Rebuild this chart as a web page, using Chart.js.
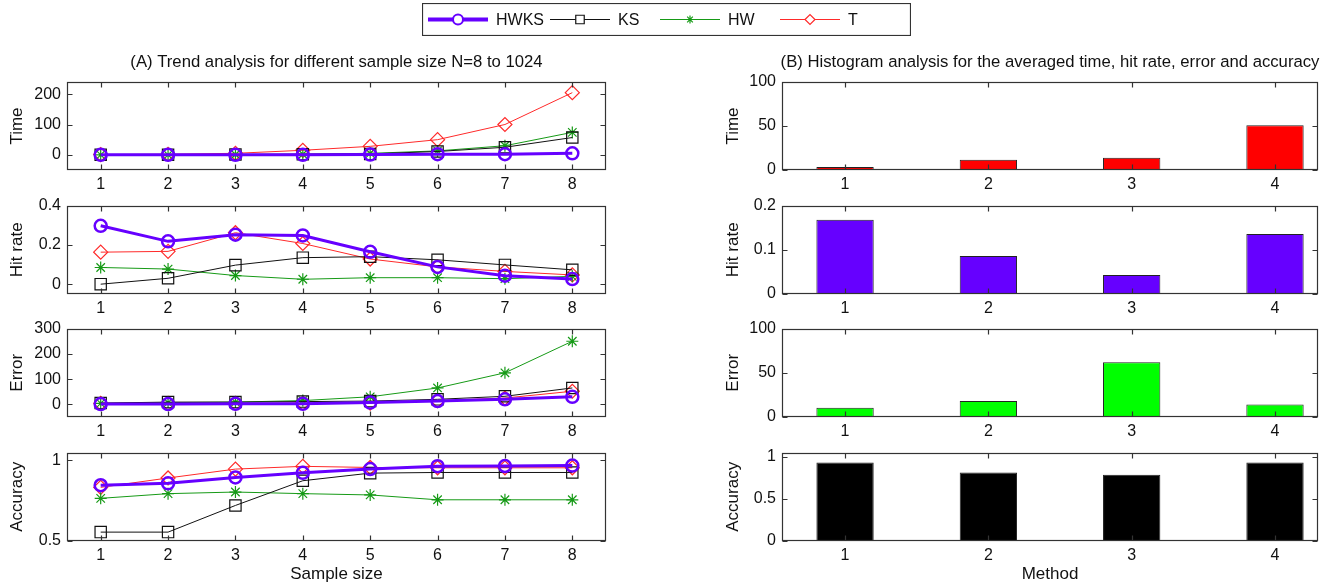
<!DOCTYPE html>
<html>
<head>
<meta charset="utf-8">
<script src="https://cdn.jsdelivr.net/npm/chart.js@4.4.0/dist/chart.umd.min.js"></script>
<style>
  html, body { margin: 0; padding: 0; background: #fff; overflow: hidden; }
  body { width: 1330px; height: 588px; position: relative; }
  .panel { position: absolute; }
  .panel canvas { display: block; }
</style>
</head>
<body>
<div class="panel" id="legendBox"><canvas id="legend"></canvas></div>
<script>
// ---- data ----
const sampleSizes = [1, 2, 3, 4, 5, 6, 7, 8];
const methodIds = [1, 2, 3, 4];
const seriesNames = ['HWKS', 'KS', 'HW', 'T'];

// (A) trend per sample size
const timeHWKS = [0, 0, 0, 0, 1, 2, 2, 5];
const timeKS   = [0, 0, 1, 2, 3, 11, 25, 57];
const timeHW   = [0, 0, 1, 2, 5, 13, 30, 74];
const timeT    = [1, 2, 5, 15, 28, 50, 100, 205];

const hitHWKS = [0.297, 0.218, 0.252, 0.248, 0.165, 0.088, 0.043, 0.026];
const hitKS   = [0.0, 0.030, 0.097, 0.135, 0.140, 0.124, 0.098, 0.073];
const hitHW   = [0.085, 0.077, 0.044, 0.025, 0.033, 0.033, 0.028, 0.040];
const hitT    = [0.163, 0.167, 0.262, 0.207, 0.128, 0.088, 0.065, 0.047];

const errHWKS = [1, 1, 2, 2, 7, 13, 20, 30];
const errKS   = [5, 9, 9, 11, 13, 20, 32, 65];
const errHW   = [4, 7, 9, 15, 30, 65, 125, 250];
const errT    = [4, 4, 4, 5, 5, 15, 25, 52];

const accHWKS = [0.845, 0.857, 0.893, 0.922, 0.945, 0.963, 0.964, 0.967];
const accKS   = [0.555, 0.555, 0.72, 0.873, 0.92, 0.924, 0.924, 0.924];
const accHW   = [0.764, 0.793, 0.803, 0.793, 0.785, 0.755, 0.755, 0.755];
const accT    = [0.832, 0.89, 0.945, 0.962, 0.955, 0.953, 0.953, 0.953];

// (B) averaged per method
const avgTime = [1.5, 11.7, 14, 51];
const avgHit  = [0.168, 0.086, 0.043, 0.136];
const avgErr  = [10.5, 18, 62, 14];
const avgAcc  = [0.93, 0.81, 0.785, 0.93];

// tick labels
const timeTicks = [0, 100, 200];
const hitTicks  = [0, 0.2, 0.4];
const errTicks  = [0, 100, 200, 300];
const accTicks  = [0.5, 1];
const avgTimeTicks = [0, 50, 100];
const avgHitTicks  = [0, 0.1, 0.2];
const avgErrTicks  = [0, 50, 100];
const avgAccTicks  = [0, 0.5, 1];

// ---- styles ----
const FONT = '"Liberation Sans", Arial, Helvetica, sans-serif';
const seriesStyle = {
  HWKS: { color: '#6600ff', width: 3, point: 'circle', radius: 6, pw: 2.5 },
  KS:   { color: '#111111', width: 1, point: 'rect', radius: 8, pw: 1.2 },
  HW:   { color: '#169a16', width: 1, point: 'star', radius: 6, pw: 1.2 },
  T:    { color: '#ff2a2a', width: 1, point: 'rectRot', radius: 7, pw: 1.2 }
};

const boxAxes = {
  id: 'boxAxes',
  afterDraw(chart) {
    const { ctx, chartArea: a, scales } = chart;
    const l = Math.round(a.left) + 0.5, r = Math.round(a.right) - 0.5;
    const t = Math.round(a.top) + 0.5, b = Math.round(a.bottom) - 0.5;
    ctx.save();
    ctx.strokeStyle = '#333';
    ctx.lineWidth = 1.2;
    ctx.strokeRect(l, t, r - l, b - t);
    ctx.beginPath();
    scales.x.ticks.forEach(tk => {
      const px = Math.round(scales.x.getPixelForValue(tk.value)) + 0.5;
      ctx.moveTo(px, b); ctx.lineTo(px, b - 5);
      ctx.moveTo(px, t); ctx.lineTo(px, t + 5);
    });
    scales.y.ticks.forEach(tk => {
      const py = Math.round(scales.y.getPixelForValue(tk.value)) + 0.5;
      ctx.moveTo(l, py); ctx.lineTo(l + 5, py);
      ctx.moveTo(r, py); ctx.lineTo(r - 5, py);
    });
    ctx.stroke();
    ctx.restore();
  }
};

function makePanel(box, type, datasets, xSpec, ySpec, extra) {
  const wrap = document.createElement('div');
  wrap.className = 'panel';
  const yW = box.chartLeft - box.left;
  const w = box.chartRight + yW - box.left;   // blank right axis keeps the title centred
  const h = box.chartBottom + box.xAxisH - box.top;
  wrap.style.left = box.left + 'px';
  wrap.style.top = box.top + 'px';
  const cv = document.createElement('canvas');
  cv.width = w; cv.height = h;
  cv.style.width = w + 'px'; cv.style.height = h + 'px';
  wrap.appendChild(cv);
  document.body.appendChild(wrap);

  const tickFont = { family: FONT, size: 16 };
  const titleFont = { family: FONT, size: 17 };
  const noGrid = { display: false, drawTicks: false, tickLength: 0 };

  return new Chart(cv.getContext('2d'), {
    type: type,
    data: { datasets: datasets },
    options: {
      responsive: false,
      animation: false,
      layout: { padding: { top: box.padTop, right: 0, left: 0, bottom: 0 } },
      plugins: {
        legend: { display: false },
        tooltip: { enabled: false },
        title: extra.title ? {
          display: true, text: extra.title, color: '#111',
          font: { family: FONT, size: 16.7, weight: 'normal' },
          padding: { top: 3, bottom: 10 }
        } : { display: false }
      },
      scales: {
        x: {
          type: 'linear', min: xSpec.min, max: xSpec.max, offset: false,
          afterBuildTicks: s => { s.ticks = xSpec.ticks.map(v => ({ value: v })); },
          afterFit: s => { s.height = box.xAxisH; },
          grid: noGrid, border: { display: false },
          ticks: { font: tickFont, color: '#111', padding: 5, maxRotation: 0, autoSkip: false,
                   callback: v => String(v) },
          title: extra.xTitle ? { display: true, text: extra.xTitle, color: '#111', font: titleFont,
                                  padding: { top: 0, bottom: 2 } } : { display: false }
        },
        y: {
          type: 'linear', min: ySpec.min, max: ySpec.max,
          afterBuildTicks: s => { s.ticks = ySpec.ticks.map(v => ({ value: v })); },
          afterFit: s => { s.width = yW; },
          grid: noGrid, border: { display: false },
          ticks: { font: tickFont, color: '#111', padding: 6, callback: v => String(v) },
          title: { display: true, text: ySpec.title, color: '#111', font: titleFont,
                   padding: { top: box.yTitlePad, bottom: 0 } }
        },
        yR: {
          type: 'linear', position: 'right', display: true,
          afterFit: s => { s.width = yW; },
          grid: noGrid, border: { display: false }, ticks: { display: false }
        }
      }
    },
    plugins: [boxAxes]
  });
}

function lineSets(arrays) {
  return seriesNames.map((name, k) => {
    const st = seriesStyle[name];
    return {
      label: name,
      data: sampleSizes.map((x, i) => ({ x: x, y: arrays[k][i] })),
      borderColor: st.color, borderWidth: st.width,
      pointStyle: st.point, pointRadius: st.radius, pointBorderWidth: st.pw,
      pointBorderColor: st.color, pointBackgroundColor: 'rgba(0,0,0,0)',
      tension: 0, fill: false
    };
  });
}

function barSet(values, color) {
  return [{
    data: methodIds.map((x, i) => ({ x: x, y: values[i] })),
    backgroundColor: color, borderColor: '#222', borderWidth: 1, borderSkipped: false,
    minBarLength: 3, barPercentage: 0.4, categoryPercentage: 1
  }];
}

// ---- layout of the eight axes ----
const colA = { left: 0, chartLeft: 67, chartRight: 606, yTitlePad: 7 };
const colB = { left: 722, chartLeft: 782, chartRight: 1318, yTitlePad: 1 };
const rows = [
  { top: 48, chartTop: 82, chartBottom: 170, xAxisH: 25, padTop: 1 },
  { top: 190, chartTop: 205, chartBottom: 294, xAxisH: 24, padTop: 15 },
  { top: 313, chartTop: 328, chartBottom: 417, xAxisH: 24, padTop: 15 },
  { top: 437, chartTop: 452, chartBottom: 541, xAxisH: 46, padTop: 15 }
];
const box = (c, r) => Object.assign({}, c, r);

const xA = { min: 0.5, max: 8.5, ticks: sampleSizes };
const xB = { min: 0.56, max: 4.3, ticks: methodIds };

makePanel(box(colA, rows[0]), 'line', lineSets([timeHWKS, timeKS, timeHW, timeT]), xA,
  { min: -50, max: 240, ticks: timeTicks, title: 'Time' },
  { title: '(A) Trend analysis for different sample size N=8 to 1024' });
makePanel(box(colA, rows[1]), 'line', lineSets([hitHWKS, hitKS, hitHW, hitT]), xA,
  { min: -0.05, max: 0.4, ticks: hitTicks, title: 'Hit rate' }, {});
makePanel(box(colA, rows[2]), 'line', lineSets([errHWKS, errKS, errHW, errT]), xA,
  { min: -50, max: 300, ticks: errTicks, title: 'Error' }, {});
makePanel(box(colA, rows[3]), 'line', lineSets([accHWKS, accKS, accHW, accT]), xA,
  { min: 0.5, max: 1.047, ticks: accTicks, title: 'Accuracy' }, { xTitle: 'Sample size' });

makePanel(box(colB, rows[0]), 'bar', barSet(avgTime, '#ff0000'), xB,
  { min: 0, max: 100, ticks: avgTimeTicks, title: 'Time' },
  { title: '(B) Histogram analysis for the averaged time, hit rate, error and accuracy' });
makePanel(box(colB, rows[1]), 'bar', barSet(avgHit, '#6600ff'), xB,
  { min: 0, max: 0.2, ticks: avgHitTicks, title: 'Hit rate' }, {});
makePanel(box(colB, rows[2]), 'bar', barSet(avgErr, '#00ff00'), xB,
  { min: 0, max: 100, ticks: avgErrTicks, title: 'Error' }, {});
makePanel(box(colB, rows[3]), 'bar', barSet(avgAcc, '#000000'), xB,
  { min: 0, max: 1.047, ticks: avgAccTicks, title: 'Accuracy' }, { xTitle: 'Method' });

// ---- legend (line + marker, like the original) ----
(function drawLegend() {
  const W = 489, H = 33;
  const wrap = document.getElementById('legendBox');
  wrap.style.left = '422px'; wrap.style.top = '3px';
  const cv = document.getElementById('legend');
  cv.width = W; cv.height = H;
  const ctx = cv.getContext('2d');
  ctx.strokeStyle = '#333'; ctx.lineWidth = 1.2;
  ctx.strokeRect(0.5, 0.5, W - 1, H - 1);
  const starts = [6, 128, 238, 358];
  const cy = 16.5;
  seriesNames.forEach((name, k) => {
    const st = seriesStyle[name];
    const x0 = starts[k], x1 = x0 + 60, mx = (x0 + x1) / 2;
    ctx.strokeStyle = st.color;
    ctx.lineWidth = name === 'HWKS' ? 4 : 1;
    ctx.beginPath(); ctx.moveTo(x0, cy); ctx.lineTo(x1, cy); ctx.stroke();
    ctx.lineWidth = name === 'HWKS' ? 2 : 1.2;
    ctx.fillStyle = '#fff';
    Chart.helpers.drawPoint(ctx, {
      pointStyle: st.point, radius: name === 'HWKS' ? 5 : st.radius - 2, rotation: 0, borderWidth: ctx.lineWidth
    }, mx, cy);
    ctx.fillStyle = '#111';
    ctx.font = '16px ' + FONT;
    ctx.textBaseline = 'middle';
    ctx.fillText(name, x1 + 8, cy + 1);
  });
})();
</script>
</body>
</html>
